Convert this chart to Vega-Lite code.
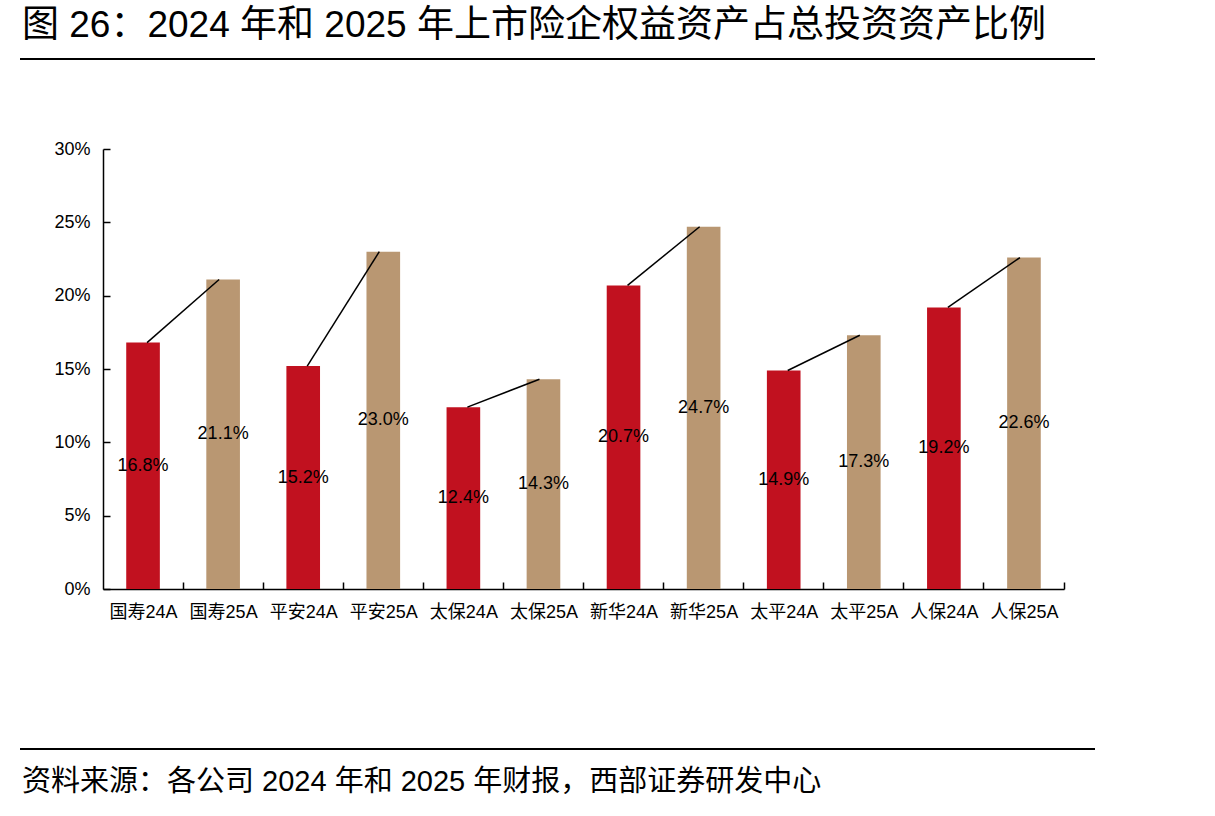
{
  "$schema": "https://vega.github.io/schema/vega-lite/v6.json",
  "width": 961,
  "height": 440,
  "autosize": {"type": "none"},
  "padding": {"left": 103, "top": 149, "right": 151, "bottom": 227},
  "background": "white",
  "config": {"view": {"stroke": null}, "font": "Liberation Sans, Noto Sans CJK SC"},
  "datasets": {
    "bars": [
      {"item": "国寿24A", "company": "国寿", "year": "2024", "value": 0.168},
      {"item": "国寿25A", "company": "国寿", "year": "2025", "value": 0.211},
      {"item": "平安24A", "company": "平安", "year": "2024", "value": 0.152},
      {"item": "平安25A", "company": "平安", "year": "2025", "value": 0.230},
      {"item": "太保24A", "company": "太保", "year": "2024", "value": 0.124},
      {"item": "太保25A", "company": "太保", "year": "2025", "value": 0.143},
      {"item": "新华24A", "company": "新华", "year": "2024", "value": 0.207},
      {"item": "新华25A", "company": "新华", "year": "2025", "value": 0.247},
      {"item": "太平24A", "company": "太平", "year": "2024", "value": 0.149},
      {"item": "太平25A", "company": "太平", "year": "2025", "value": 0.173},
      {"item": "人保24A", "company": "人保", "year": "2024", "value": 0.192},
      {"item": "人保25A", "company": "人保", "year": "2025", "value": 0.226}
    ],
    "pairs": [
      {"company": "国寿", "from": "国寿24A", "to": "国寿25A", "v24": 0.168, "v25": 0.211},
      {"company": "平安", "from": "平安24A", "to": "平安25A", "v24": 0.152, "v25": 0.230},
      {"company": "太保", "from": "太保24A", "to": "太保25A", "v24": 0.124, "v25": 0.143},
      {"company": "新华", "from": "新华24A", "to": "新华25A", "v24": 0.207, "v25": 0.247},
      {"company": "太平", "from": "太平24A", "to": "太平25A", "v24": 0.149, "v25": 0.173},
      {"company": "人保", "from": "人保24A", "to": "人保25A", "v24": 0.192, "v25": 0.226}
    ]
  },
  "layer": [
    {
      "layer": [
        {
          "data": {"name": "bars"},
          "mark": {"type": "bar", "width": {"band": 0.42}},
          "encoding": {
            "x": {
              "field": "item", "type": "nominal",
              "scale": {"domain": ["国寿24A","国寿25A","平安24A","平安25A","太保24A","太保25A","新华24A","新华25A","太平24A","太平25A","人保24A","人保25A"], "paddingInner": 0, "paddingOuter": 0},
              "axis": {"orient": "bottom", "bandPosition": 1, "labels": false, "title": null, "tickSize": -7, "tickColor": "black", "tickWidth": 1.5, "domainColor": "black", "domainWidth": 1.5}
            },
            "y": {
              "field": "value", "type": "quantitative",
              "scale": {"domain": [0, 0.3], "nice": false, "zero": true},
              "axis": {"values": [0, 0.05, 0.1, 0.15, 0.2, 0.25, 0.3], "format": ".0%", "title": null, "grid": false, "tickSize": -7, "tickColor": "black", "tickWidth": 1.5, "domainColor": "black", "domainWidth": 1.5, "labelPadding": 20, "labelFontSize": 18, "labelColor": "black", "labelFont": "Liberation Sans"}
            },
            "color": {"field": "year", "type": "nominal", "scale": {"domain": ["2024", "2025"], "range": ["#C1111F", "#B99772"]}, "legend": null}
          }
        },
        {
          "data": {"name": "pairs"},
          "mark": {"type": "rule", "color": "black", "strokeWidth": 1.5},
          "encoding": {
            "x": {"field": "from", "type": "nominal", "bandPosition": 0.55},
            "x2": {"field": "to", "bandPosition": 0.45},
            "y": {"field": "v24", "type": "quantitative"},
            "y2": {"field": "v25"}
          }
        }
      ]
    },
    {
      "data": {"name": "bars"},
      "mark": {"type": "text", "fontSize": 18, "color": "black", "baseline": "middle", "font": "Liberation Sans"},
      "encoding": {
        "x": {
          "field": "item", "type": "nominal",
          "scale": {"domain": ["国寿24A","国寿25A","平安24A","平安25A","太保24A","太保25A","新华24A","新华25A","太平24A","太平25A","人保24A","人保25A"], "paddingInner": 0, "paddingOuter": 0},
          "axis": {"orient": "bottom", "ticks": false, "domain": false, "title": null, "labelAngle": 0, "labelPadding": 14, "labelFontSize": 18, "labelColor": "black", "labelFont": "Liberation Sans, Noto Sans CJK SC"}
        },
        "y": {"field": "value", "type": "quantitative", "scale": {"domain": [0, 0.6], "nice": false}, "axis": null},
        "text": {"field": "value", "type": "quantitative", "format": ".1%"}
      }
    },
    {
      "data": {"values": [{}]},
      "layer": [
        {
          "mark": {"type": "rule", "color": "black", "strokeWidth": 2},
          "encoding": {
            "x": {"datum": 0, "type": "quantitative", "scale": {"domain": [0, 1075], "range": [-83, 992], "nice": false, "zero": false}, "axis": null},
            "x2": {"datum": 1075},
            "y": {"datum": 0.3614, "type": "quantitative", "scale": {"domain": [0, 0.3], "nice": false}, "axis": null}
          }
        },
        {
          "mark": {"type": "rule", "color": "black", "strokeWidth": 2},
          "encoding": {
            "x": {"datum": 0, "type": "quantitative"},
            "x2": {"datum": 1075},
            "y": {"datum": -0.1091, "type": "quantitative"}
          }
        },
        {
          "mark": {"type": "text", "align": "left", "baseline": "middle", "fontSize": 37, "font": "Liberation Sans, Noto Sans CJK SC", "color": "black"},
          "encoding": {
            "x": {"datum": 2, "type": "quantitative"},
            "y": {"datum": 0.3839, "type": "quantitative"},
            "text": {"value": "图 26：2024 年和 2025 年上市险企权益资产占总投资资产比例"}
          }
        },
        {
          "mark": {"type": "text", "align": "left", "baseline": "middle", "fontSize": 29, "font": "Liberation Sans, Noto Sans CJK SC", "color": "black"},
          "encoding": {
            "x": {"datum": 2, "type": "quantitative"},
            "y": {"datum": -0.1316, "type": "quantitative"},
            "text": {"value": "资料来源：各公司 2024 年和 2025 年财报，西部证券研发中心"}
          }
        }
      ]
    }
  ],
  "resolve": {"scale": {"x": "independent", "y": "independent"}}
}
